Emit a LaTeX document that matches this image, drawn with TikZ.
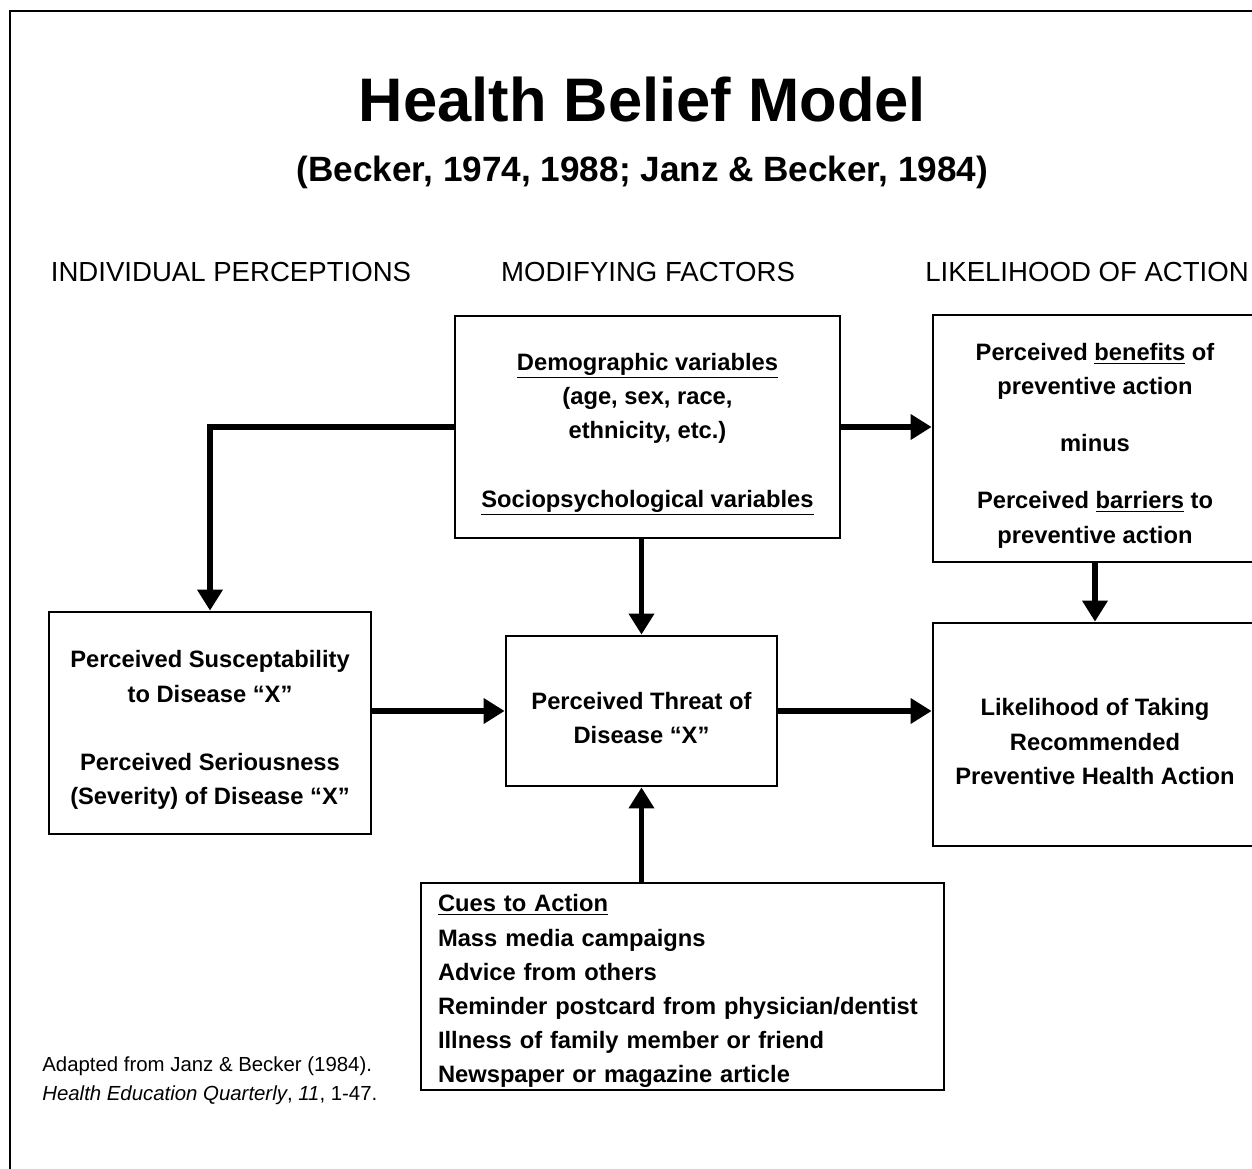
\documentclass[tikz,border=0pt]{standalone}
\usepackage{fontspec}
\setmainfont{Liberation Sans}
\usetikzlibrary{positioning, arrows.meta, calc}
\newcommand{\topgap}{\rule{0pt}{18pt}}

\begin{document}
\begin{tikzpicture}[x=0.02cm, y=-0.02cm,
		box/.style={draw, line width=1.6pt, align=center, inner sep=0pt, font=\bfseries\fontsize{13.5}{19.5}\selectfont},
		link/.style={line width=3.4pt, -{Triangle[width=14pt,length=12pt]}},
		heading/.style={anchor=base, inner sep=0pt, font=\fontsize{15.7}{19}\selectfont}]
	\useasboundingbox (0,0) rectangle (1252,1169);
	\clip (0,0) rectangle (1252,1169);
	\draw[line width=1.2pt] (10,1180) -- (10,11) -- (1260,11);
	
	\node[anchor=base, font=\bfseries\fontsize{35}{40}\selectfont] (title) at (642.5,122) {Health Belief Model};
	\node[anchor=base, font=\bfseries\fontsize{20}{24}\selectfont] (source) at (642.5,182) {(Becker, 1974, 1988; Janz \& Becker, 1984)};
	
	\node[heading] (hindiv) at (231,282) {INDIVIDUAL PERCEPTIONS};
	\node[heading] (hmodif) at (648,282) {MODIFYING FACTORS};
	\node[heading, anchor=base west] (hlikely) at (925,282) {LIKELIHOOD OF ACTION};
	
	\node[box, minimum width=7.7cm, minimum height=4.44cm] (demo) at (647.5,427)
		{\topgap\underline{Demographic variables}\\(age, sex, race,\\ethnicity, etc.)\\[19.5pt]\underline{Sociopsychological variables}};
	\node[box, minimum width=6.48cm, minimum height=4.94cm] (benefit) at (1095,438.5)
		{\topgap Perceived \underline{benefits} of\\preventive action\\[13pt]minus\\[13pt]Perceived \underline{barriers} to\\preventive action};
	\node[box, minimum width=6.44cm, minimum height=4.44cm] (suscep) at (210,723)
		{\topgap Perceived Susceptability\\to Disease “X”\\[19.5pt]Perceived Seriousness\\(Severity) of Disease “X”};
	\node[box, minimum width=5.42cm, minimum height=3cm] (threat) at (641.5,711)
		{\topgap Perceived Threat of\\Disease “X”};
	\node[box, minimum width=6.48cm, minimum height=4.46cm] (likely) at (1095,734.5)
		{\topgap Likelihood of Taking\\Recommended\\Preventive Health Action};
	\node[box, align=left, text width=9.78cm, inner xsep=0.34cm, minimum height=4.14cm, font=\bfseries\fontsize{13.5}{19.4}\selectfont] (cues) at (682.5,986.5)
		{\rule{0pt}{15pt}\underline{Cues to Action}\\Mass media campaigns\\Advice from others\\Reminder postcard from physician/dentist\\Illness of family member or friend\\Newspaper or magazine article};
	
	\node[anchor=base west, align=left, inner sep=0pt, font=\fontsize{11.6}{16.2}\selectfont] (ref) at (42,1100)
		{Adapted from Janz \& Becker (1984).\\\textit{Health Education Quarterly}, \textit{11}, 1-47.};
	
	\draw[link] (demo.west) -| (suscep.north);
	\draw[link] (demo.east) -- (demo.east -| benefit.west);
	\draw[link] (threat.north |- demo.south) -- (threat.north);
	\draw[link] (benefit.south) -- (likely.north);
	\draw[link] (suscep.east |- threat.west) -- (threat.west);
	\draw[link] (threat.east) -- (threat.east -| likely.west);
	\draw[link] (cues.north -| threat.south) -- (threat.south);
\end{tikzpicture}
\end{document}
